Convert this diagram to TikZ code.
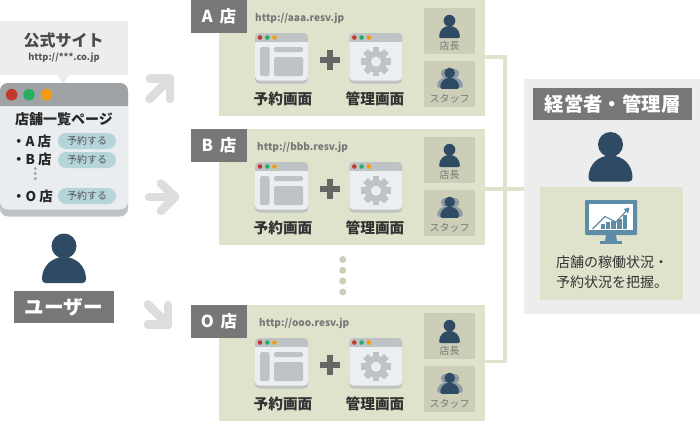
\documentclass[tikz,border=0pt]{standalone}
\usepackage{fontspec}
\setmainfont{Noto Sans CJK JP}
\definecolor{panelc}{HTML}{E0E3CB}
\definecolor{tilec}{HTML}{CCCEB8}
\definecolor{labelc}{HTML}{777777}
\definecolor{greyc}{HTML}{EDEDED}
\definecolor{personc}{HTML}{2F4A63}
\definecolor{personb}{HTML}{8E9BA6}
\definecolor{barc}{HTML}{BFC3C6}
\definecolor{winc}{HTML}{ECEFF1}
\definecolor{titlec}{HTML}{A0A3A5}
\definecolor{bodyc}{HTML}{E9EDF0}
\definecolor{redc}{HTML}{C0392B}
\definecolor{greenc}{HTML}{27AE60}
\definecolor{orangec}{HTML}{F39C12}
\definecolor{btnc}{HTML}{B5D5DA}
\definecolor{arrowc}{HTML}{DDDDDD}
\definecolor{dotc}{HTML}{C8D1B8}
\definecolor{monc}{HTML}{5E8BA5}
\definecolor{darkt}{HTML}{333333}
\tikzset{
  box/.style={anchor=north west,inner sep=0pt,outer sep=0pt},
  panel/.style={box,fill=panelc,minimum width=266pt,minimum height=116pt},
  tag/.style={box,fill=labelc,text=white,font=\fontsize{16.5}{19}\selectfont\bfseries,minimum width=56pt,minimum height=32.5pt},
  tile/.style={box,fill=tilec,minimum width=51pt,minimum height=46pt},
  tiletext/.style={text=labelc,font=\fontsize{10}{12}\selectfont,inner sep=0pt},
  urltext/.style={anchor=west,text=labelc,inner sep=0pt,font=\fontsize{10}{12}\selectfont\bfseries},
  captext/.style={text=darkt,inner sep=0pt,font=\fontsize{14.7}{16}\selectfont\bfseries},
  link/.style={draw=panelc,line width=3.4pt},
  bigarrow/.style={draw=arrowc,line width=8.6pt,line cap=round,line join=round},
  btn/.style={box,fill=btnc,rounded corners=8pt,minimum width=58pt,minimum height=16pt,text=darkt!85,font=\fontsize{10}{12}\selectfont},
  listitem/.style={anchor=west,inner sep=0pt,text=black!85,font=\fontsize{13.5}{15}\selectfont\bfseries},
  insighttext/.style={inner sep=0pt,text=darkt,font=\fontsize{14}{16}\selectfont},
  person/.pic={
    \fill[personc] (0,0) circle (12.5);
    \fill[personc] (-18.5,37) -- (18.5,37) .. controls (21,37) and (22,35) .. (22,33)
      .. controls (22,20) and (12,11) .. (0,11) .. controls (-12,11) and (-22,20) .. (-22,33)
      .. controls (-22,35) and (-21,37) .. (-18.5,37) -- cycle;
  },
  personback/.pic={
    \fill[personb] (0,0) circle (12.5);
    \fill[personb] (-18.5,37) -- (18.5,37) .. controls (21,37) and (22,35) .. (22,33)
      .. controls (22,20) and (12,11) .. (0,11) .. controls (-12,11) and (-22,20) .. (-22,33)
      .. controls (-22,35) and (-21,37) .. (-18.5,37) -- cycle;
  },
  winbase/.pic={
    \fill[barc,rounded corners=4pt] (0,0) rectangle (53,50.5);
    \fill[winc] (0,9) -- (53,9) [rounded corners=4pt] -- (53,47.5) -- (0,47.5) [sharp corners] -- (0,9) -- cycle;
    \fill[redc] (5,4.5) circle (2.3);
    \fill[greenc] (12.3,4.5) circle (2.3);
    \fill[orangec] (19.5,4.5) circle (2.3);
  },
  winpage/.pic={
    \pic {winbase};
    \fill[barc,rounded corners=1.5pt] (5,14) rectangle (14.5,43);
    \fill[barc,rounded corners=1.5pt] (19,14) rectangle (48,19);
    \fill[barc,rounded corners=1.5pt] (19,24) rectangle (48,43);
  },
  winadmin/.pic={
    \pic {winbase};
    \foreach \a in {0,45,...,315}
      \fill[barc,rotate around={\a:(26.7,28.7)}] (23.4,14) rectangle (30,24);
    \fill[barc] (26.7,28.7) circle (11);
    \fill[winc] (26.7,28.7) circle (5);
  },
  plussign/.pic={
    \fill[darkt!75] (-10,-3) rectangle (10,3);
    \fill[darkt!75] (-3,-10) rectangle (3,10);
  },
}
\newcommand{\storeblock}[5]{%
  \begin{scope}[shift={(0,#2)}]
    \node[panel] (#1) at (219,0) {};
    \node[tag] (#1tag) at (191,0) {#3};
    \node[urltext] (#1url) at (#4,18) {#5};
    \pic at (255,33) {winpage};
    \pic at (349.3,33) {winadmin};
    \pic at (330,60) {plussign};
    \node[captext] (#1capa) at (283,99) {予約画面};
    \node[captext] (#1capb) at (375,99) {管理画面};
    \node[tile] (#1tilea) at (424,8) {};
    \pic[scale=.47] at (449.5,20.7) {person};
    \node[tiletext] (#1ta) at (449.5,46) {店長};
    \node[tile] (#1tileb) at (424,61) {};
    \pic[scale=.38] at (445.5,73.5) {personback};
    \pic[scale=.38] at (454.5,73.5) {personback};
    \pic[scale=.43] at (449.7,73) {person};
    \node[tiletext] (#1tb) at (449.5,99) {スタッフ};
  \end{scope}%
}
\begin{document}
\begin{tikzpicture}[x=1pt,y=-1pt]
\useasboundingbox (0,0) rectangle (700,421);
\fill[white] (0,0) rectangle (700,421);
% trunk connectors
\coordinate (trunkA) at (505,57);
\coordinate (trunkB) at (505,189);
\coordinate (trunkO) at (505,361.5);
\coordinate (mgmtIn) at (524,189);
% management panel
\node[box,fill=greyc,minimum width=176pt,minimum height=235pt] (mgmt) at (524,79) {};
\node[box,fill=labelc,text=white,minimum width=159pt,minimum height=32pt,font=\fontsize{19.4}{21}\selectfont\bfseries] (mgmttag) at (533,88) {経営者・管理層};
\pic at (610.5,144.5) {person};
\node[box,fill=panelc,minimum width=143pt,minimum height=113pt] (insight) at (540,187) {};
% monitor
\fill[monc,rounded corners=1pt] (585,200) rectangle (637,235);
\fill[white] (589,204) rectangle (633,229.5);
\fill[monc] (606,235) -- (616,235) -- (617,241) -- (605,241) -- cycle;
\fill[monc] (600,241) rectangle (622,244);
\fill[monc] (600.5,223.5) rectangle (604.5,229);
\fill[monc] (605.5,221.5) rectangle (610,229);
\fill[monc] (611,221) rectangle (615.5,229);
\fill[monc] (617,219) rectangle (621.5,229);
\fill[monc] (622.5,214.5) rectangle (626.5,229);
\draw[monc,line width=1.1pt] (592.5,229) -- (605,216.5) -- (616,222) -- (627,210);
\fill[monc] (629.5,207.5) -- (623.5,209) -- (628,213.5) -- cycle;
\node[insighttext] (insighta) at (612,262) {店舗の稼働状況・};
\node[insighttext] (insightb) at (612,282.5) {予約状況を把握。};
% stores
\storeblock{storeA}{0}{A\hspace{3pt} 店}{255}{http://aaa.resv.jp}
\storeblock{storeB}{129}{B\hspace{3pt} 店}{257}{http://bbb.resv.jp}
\storeblock{storeO}{305}{O\hspace{3pt} 店}{259}{http://ooo.resv.jp}
\draw[link] (storeA.east |- trunkA) -- (trunkA) -- (trunkO) -- (storeO.east |- trunkO);
\draw[link] (storeB.east |- trunkB) -- (mgmtIn);
% ellipsis dots
\foreach \yy/\nm in {259.5/a,270.3/b,281/c,292/d}
  \node[circle,fill=dotc,minimum size=7pt,inner sep=0pt] (ell\nm) at (342.7,\yy) {};
% callout
\fill[greyc] (0,21) rectangle (128,75);
\fill[greyc] (57,75) -- (69,75) -- (63,84) -- cycle;
\node[inner sep=0pt,text=black!70,font=\fontsize{16}{18}\selectfont\bfseries] (site) at (63.5,40) {公式サイト};
\node[inner sep=0pt,text=black!65,font=\fontsize{9.2}{12}\selectfont\bfseries] (siteurl) at (64,58) {http://***.co.jp};
% browser window
\fill[barc,rounded corners=8pt] (0,83) rectangle (128,216.5);
\fill[bodyc] (0,106) -- (128,106) [rounded corners=8pt] -- (128,209.5) -- (0,209.5) [sharp corners] -- (0,106) -- cycle;
\fill[titlec,rounded corners=8pt] (0,106) -- (0,83) -- (128,83) [sharp corners] -- (128,106) -- cycle;
\fill[redc] (11.7,94.7) circle (5.8);
\fill[greenc] (29,94.7) circle (5.8);
\fill[orangec] (46.5,94.7) circle (5.8);
\node[inner sep=0pt,text=black!85,font=\fontsize{14}{16}\selectfont\bfseries] (listhead) at (64,119.5) {店舗一覧ページ};
\node[listitem] (itemA) at (12,141) {・A 店};
\node[listitem] (itemB) at (12,159.5) {・B 店};
\node[listitem] (itemO) at (12,196) {・O 店};
\node[btn] (btnA) at (58,133) {予約する};
\node[btn] (btnB) at (58,152) {予約する};
\node[btn] (btnO) at (58,188) {予約する};
\foreach \yy in {168.5,173.5,178.5}
  \fill[black!35] (35.3,\yy) circle (1.7);
% user
\pic at (64,246) {person};
\node[box,fill=labelc,text=white,minimum width=100pt,minimum height=32pt,font=\fontsize{19.6}{21}\selectfont\bfseries] (usertag) at (14,291) {ユーザー};
% arrows
\draw[bigarrow] (150,78.5) -- (170,78.5) -- (170,99);
\draw[bigarrow] (170,78.5) -- (149.5,99);
\draw[bigarrow] (149,197) -- (175,197);
\draw[bigarrow] (161,183.5) -- (175,197) -- (161,211);
\draw[bigarrow] (148,324.5) -- (168,324.5) -- (168,305);
\draw[bigarrow] (168,324.5) -- (148,304.5);
\end{tikzpicture}
\end{document}
